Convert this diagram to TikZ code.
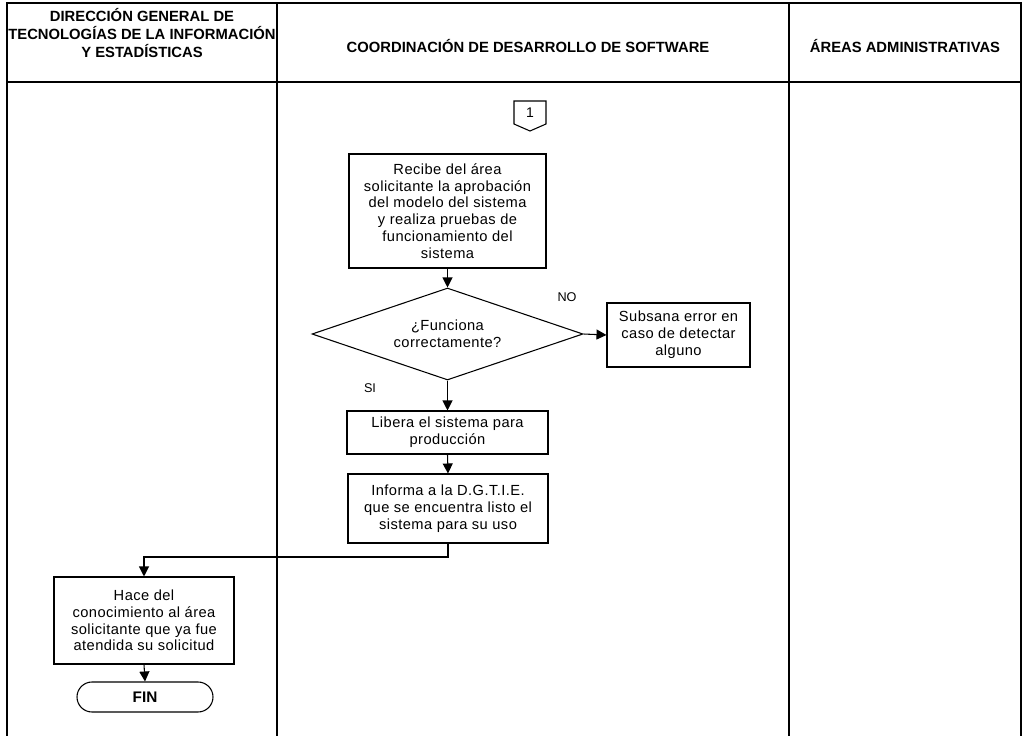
\documentclass[tikz,border=0pt]{standalone}
\usepackage{fontspec}
\setmainfont{Liberation Sans}
\newfontfamily\bodyfont[LetterSpace=3]{Liberation Sans}
\usetikzlibrary{shapes.geometric,shapes.misc,arrows.meta}
\begin{document}
\begin{tikzpicture}[x=0.75pt,y=-0.75pt,
  frameline/.style={line width=2pt,line cap=rect},
  hdr/.style={font=\fontsize{11.1}{13.5}\selectfont\bfseries,align=center,inner sep=0},
  proc/.style={draw,line width=0.8pt,align=center,inner sep=0,font=\bodyfont\fontsize{11}{12.6}\selectfont},
  dec/.style={draw,diamond,aspect=2.95,line width=0.8pt,align=center,inner sep=0,font=\bodyfont\fontsize{11}{12.6}\selectfont},
  term/.style={draw,rounded rectangle,line width=0.8pt,inner sep=0,font=\fontsize{11.5}{13}\selectfont\bfseries},
  lbl/.style={font=\fontsize{9.5}{11}\selectfont,inner sep=0},
  flow/.style={line width=0.8pt,-{Triangle[length=7.5pt,width=7.5pt]}}]
\useasboundingbox (0,0) rectangle (1024,735);
% frame
\draw[frameline] (7,3) -- (1021,3);
\draw[frameline] (7,82) -- (1021,82);
\draw[frameline] (7,3) -- (7,736);
\draw[frameline] (277,3) -- (277,736);
\draw[frameline] (789,3) -- (789,736);
\draw[frameline] (1021,3) -- (1021,736);
% headers
\node[hdr] (h1) at (142,33) {DIRECCIÓN GENERAL DE\\TECNOLOGÍAS DE LA INFORMACIÓN\\Y ESTADÍSTICAS};
\node[hdr] (h2) at (528,46) {COORDINACIÓN DE DESARROLLO DE SOFTWARE};
\node[hdr] (h3) at (905,46) {ÁREAS ADMINISTRATIVAS};
% off-page connector
\draw[line width=0.8pt] (514,101) -- (546,101) -- (546,124) -- (530,131) -- (514,124) -- cycle;
\node[font=\fontsize{10.5}{12}\selectfont,inner sep=0] (c1) at (530,113) {1};
% nodes
\node[proc,minimum width={197*0.75pt},minimum height={114*0.75pt}] (b1) at (447.5,211)
  {Recibe del área\\solicitante la aprobación\\del modelo del sistema\\y realiza pruebas de\\funcionamiento del\\sistema};
\node[dec,minimum width={271*0.75pt},minimum height={92*0.75pt}] (d) at (447.5,334)
  {¿Funciona\\correctamente?};
\node[proc,minimum width={143*0.75pt},minimum height={64*0.75pt}] (s) at (678.5,335)
  {Subsana error en\\caso de detectar\\alguno};
\node[proc,minimum width={201*0.75pt},minimum height={43*0.75pt}] (l) at (447.5,432.5)
  {Libera el sistema para\\producción};
\node[proc,minimum width={200*0.75pt},minimum height={69*0.75pt}] (inf) at (448,508.5)
  {Informa a la D.G.T.I.E.\\que se encuentra listo el\\sistema para su uso};
\node[proc,minimum width={180*0.75pt},minimum height={87*0.75pt}] (h) at (144,620.5)
  {Hace del\\conocimiento al área\\solicitante que ya fue\\atendida su solicitud};
\node[term,minimum width={136*0.75pt},minimum height={30*0.75pt}] (fin) at (145,697) {FIN};
% labels
\node[lbl] (no) at (567,297) {NO};
\node[lbl] (si) at (370,388) {SI};
% connectors
\draw[flow] (b1.south) -- (d.north);
\draw[flow] (d.east) -- (s.west);
\draw[flow] (d.south) -- (l.north);
\draw[flow] (l.south) -- (inf.north);
\coordinate (turn) at (448,557);
\draw[flow] (inf.south) -- (turn) -| (h.north);
\draw[flow] (h.south) -- (fin.north);
\end{tikzpicture}
\end{document}
